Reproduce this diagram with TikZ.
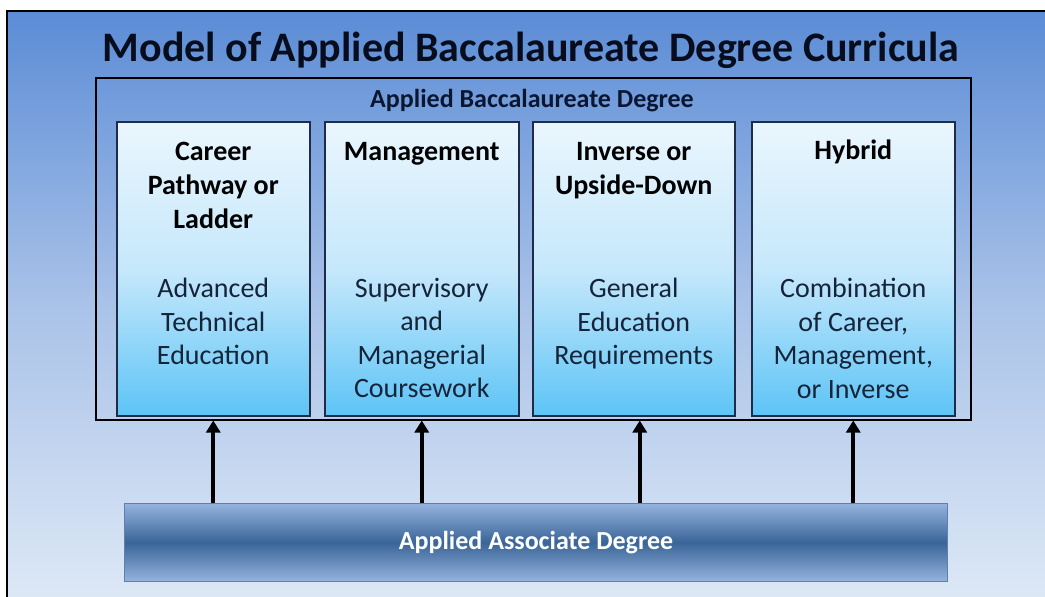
\documentclass[tikz,border=0pt]{standalone}
\usepackage{fontspec}
\setmainfont{Carlito}
\usetikzlibrary{arrows.meta,calc}
\definecolor{bgtop}{HTML}{5B8CD6}
\definecolor{bgmid}{HTML}{A9C2E8}
\definecolor{bgbot}{HTML}{DDE8F6}
\definecolor{boxtop}{HTML}{EAF6FD}
\definecolor{boxmid}{HTML}{C6E8FB}
\definecolor{boxbot}{HTML}{5DC4F6}
\definecolor{boxline}{HTML}{1E2C48}
\definecolor{bartop}{HTML}{95B3DE}
\definecolor{barmid}{HTML}{3A6598}
\definecolor{barline}{HTML}{5F80AE}
\definecolor{titlecol}{HTML}{070D1C}
\definecolor{subcol}{HTML}{0B1630}
\definecolor{bodycol}{HTML}{16243A}
\tikzset{
  x=1pt, y=-1pt,
  framebox/.style={draw=black, line width=1.5pt, minimum width=875pt, minimum height=342pt, inner sep=0pt, anchor=north west},
  modelbox/.style={draw=boxline, line width=1.5pt, top color=boxtop, bottom color=boxbot, middle color=boxmid, minimum height=294pt, inner sep=0pt, anchor=north west},
  hdrtext/.style={font=\fontsize{28}{34}\selectfont\bfseries, text=black, align=center, anchor=north, inner sep=0pt},
  bodytext/.style={font=\fontsize{28}{33.5}\selectfont, text=bodycol, align=center, anchor=north, inner sep=0pt},
  basebar/.style={draw=barline, line width=1pt, top color=bartop, bottom color=bartop, middle color=barmid, minimum width=823pt, minimum height=78pt, inner sep=0pt, anchor=north west, text=white, font=\fontsize{26}{30}\selectfont\bfseries},
  uparrow/.style={draw=black, line width=4pt, -{Triangle[width=14pt,length=12pt]}}
}
\begin{document}
\begin{tikzpicture}
\useasboundingbox (0,0) rectangle (1045,597);
% background
\shade[top color=bgtop, bottom color=bgbot, middle color=bgmid] (7,11) rectangle (1045,597);
\draw[black, line width=2pt] (7,597) -- (7,11) -- (1045,11);
% title
\node[font=\fontsize{42}{50}\selectfont\bfseries, text=titlecol, anchor=base, inner sep=0pt] (title) at (531,61) {Model of Applied Baccalaureate Degree Curricula};
% outer frame
\node[framebox] (outer) at (95,77) {};
\node[font=\fontsize{26}{30}\selectfont\bfseries, text=subcol, anchor=base, inner sep=0pt] (sub) at (532,107) {Applied Baccalaureate Degree};
% model boxes
\node[modelbox, minimum width=193pt] (b1) at (116,121) {};
\node[modelbox, minimum width=194pt] (b2) at (324,121) {};
\node[modelbox, minimum width=202pt] (b3) at (532,121) {};
\node[modelbox, minimum width=203pt] (b4) at (751,121) {};
% headers
\node[hdrtext] (h1) at ($(b1.north)+(0,21)$) {Career\\Pathway or\\Ladder};
\node[hdrtext] (h2) at ($(b2.north)+(0,21)$) {Management};
\node[hdrtext] (h3) at ($(b3.north)+(0,21)$) {Inverse or\\Upside-Down};
\node[hdrtext] (h4) at ($(b4.north)+(0,19)$) {Hybrid};
% bodies
\node[bodytext] (t1) at ($(b1.north)+(0,157)$) {Advanced\\Technical\\Education};
\node[bodytext] (t2) at ($(b2.north)+(0,157)$) {Supervisory\\and\\Managerial\\Coursework};
\node[bodytext] (t3) at ($(b3.north)+(0,157)$) {General\\Education\\Requirements};
\node[bodytext] (t4) at ($(b4.north)+(0,157)$) {Combination\\of Career,\\Management,\\or Inverse};
% base bar
\node[basebar] (bar) at (124,503) {Applied Associate Degree};
% arrows
\draw[uparrow] (bar.north -| b1.south) -- (outer.south -| b1.south);
\draw[uparrow] (bar.north -| b2.south) -- (outer.south -| b2.south);
\draw[uparrow] (bar.north -| b3.south) ++(6,0) coordinate (a3) -- (outer.south -| a3);
\draw[uparrow] (bar.north -| b4.south) -- (outer.south -| b4.south);
\end{tikzpicture}
\end{document}
